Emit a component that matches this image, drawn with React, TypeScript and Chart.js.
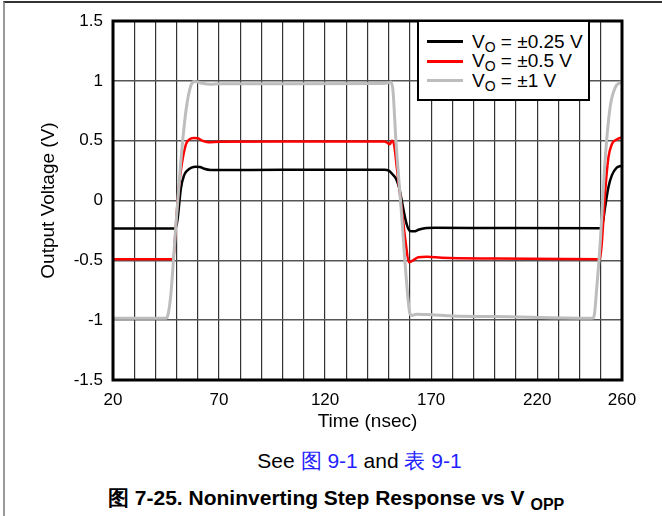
import React, { useEffect, useRef } from 'react';
import { Chart, registerables } from 'chart.js';

Chart.register(...registerables);

const FONT = '"Liberation Sans", Arial, Helvetica, sans-serif';

// Axis ticks / grid
const xGridValues = [20, 30, 40, 50, 60, 70, 80, 90, 100, 110, 120, 130, 140, 150, 160, 170, 180, 190, 200, 210, 220, 230, 240, 250, 260];
const xLabelValues = [20, 70, 120, 170, 220, 260];
const yTickValues = [-1.5, -1, -0.5, 0, 0.5, 1, 1.5];
const yTickLabels = ['-1.5', '-1', '-0.5', '0', '0.5', '1', '1.5'];

// Series: VO = ±0.25 V (black)
const blackT = [20, 49.5, 50.5, 52, 53.5, 55, 57, 59, 61, 63, 66, 70, 100, 148, 150, 152, 153.5, 155, 157, 158.5, 160, 162, 164, 167, 172, 200, 250, 251, 252, 253.6, 255.2, 257.5, 259.4, 260];
const blackV = [-0.235, -0.235, -0.15, 0.1, 0.21, 0.25, 0.275, 0.283, 0.28, 0.265, 0.255, 0.255, 0.256, 0.256, 0.25, 0.215, 0.18, 0.1, -0.08, -0.2, -0.255, -0.258, -0.245, -0.232, -0.228, -0.23, -0.232, -0.18, -0.06, 0.11, 0.21, 0.275, 0.288, 0.29];

// Series: VO = ±0.5 V (red)
const redT = [20, 48.5, 49.3, 50.5, 52, 54.4, 56, 58, 60, 62, 65, 70, 100, 148, 149.5, 150.5, 151.5, 152.5, 154, 156, 158, 159.5, 161, 164, 168, 175, 200, 249.6, 250.5, 252, 253.6, 255.2, 257.5, 259.4, 260];
const redV = [-0.49, -0.49, -0.3, 0, 0.25, 0.47, 0.51, 0.522, 0.52, 0.5, 0.487, 0.49, 0.492, 0.492, 0.48, 0.47, 0.5, 0.47, 0.25, -0.05, -0.35, -0.515, -0.505, -0.475, -0.47, -0.478, -0.485, -0.49, -0.35, 0.06, 0.36, 0.47, 0.51, 0.525, 0.527];

// Series: VO = ±1 V (gray)
const grayT = [20, 45, 46, 47.3, 48.5, 49.6, 52, 54.4, 56.7, 58.5, 60, 62, 66, 70, 100, 148, 150, 151, 152, 153.4, 156, 158.5, 160, 161, 163, 170, 180, 200, 246, 247, 248, 249.6, 252, 254.4, 256.7, 259.4, 260];
const grayV = [-0.985, -0.985, -0.95, -0.78, -0.5, -0.22, 0.33, 0.75, 0.96, 0.995, 0.99, 0.98, 0.972, 0.975, 0.975, 0.978, 0.985, 0.99, 0.92, 0.5, -0.1, -0.7, -0.945, -0.96, -0.95, -0.955, -0.965, -0.97, -0.985, -0.95, -0.75, -0.39, 0.33, 0.78, 0.94, 0.99, 0.995];

const legendLabels = ['±0.25 V', '±0.5 V', '±1 V'];
const seriesColors = ['#000000', '#ff0000', '#bdbdbd'];

const toPts = (t: number[], v: number[]) => t.map((x, i) => ({ x, y: v[i] }));

const framePlugin = {
  id: 'frameBorder',
  afterDatasetsDraw(chart: any) {
    const { ctx, chartArea } = chart;
    const { left, top, right, bottom } = chartArea;
    ctx.save();
    ctx.strokeStyle = '#000';
    ctx.lineWidth = 3;
    ctx.strokeRect(left, top, right - left, bottom - top);
    ctx.restore();
  },
};

export default function App() {
  const canvasRef = useRef<HTMLCanvasElement | null>(null);

  useEffect(() => {
    const canvas = canvasRef.current;
    if (!canvas) return;
    const chart = new Chart(canvas, {
      type: 'line',
      data: {
        datasets: [
          {
            label: legendLabels[0],
            data: toPts(blackT, blackV),
            borderColor: seriesColors[0],
            borderWidth: 2.5,
            pointRadius: 0,
            cubicInterpolationMode: 'monotone',
            order: 2,
          },
          {
            label: legendLabels[1],
            data: toPts(redT, redV),
            borderColor: seriesColors[1],
            borderWidth: 2.5,
            pointRadius: 0,
            cubicInterpolationMode: 'monotone',
            order: 1,
          },
          {
            label: legendLabels[2],
            data: toPts(grayT, grayV),
            borderColor: seriesColors[2],
            borderWidth: 3,
            pointRadius: 0,
            cubicInterpolationMode: 'monotone',
            order: 0,
          },
        ],
      },
      options: {
        animation: false,
        responsive: false,
        maintainAspectRatio: false,
        layout: { padding: { left: 0, right: 40, top: 21, bottom: 0 } },
        plugins: { legend: { display: false }, tooltip: { enabled: false } },
        scales: {
          x: {
            type: 'linear',
            min: 20,
            max: 260,
            afterBuildTicks: (scale: any) => {
              scale.ticks = xGridValues.map((v) => ({ value: v }));
            },
            afterFit: (scale: any) => {
              scale.height = 60;
            },
            ticks: {
              autoSkip: false,
              maxRotation: 0,
              padding: 10,
              color: '#000',
              font: { family: FONT, size: 17 },
              callback: (v: any) => (xLabelValues.includes(Number(v)) ? String(v) : ''),
            },
            grid: { color: '#333', lineWidth: 1.2, drawTicks: false },
            border: { display: false },
            title: {
              display: true,
              text: 'Time (nsec)',
              color: '#000',
              font: { family: FONT, size: 19 },
              padding: { top: 0, bottom: 7 },
            },
          },
          y: {
            type: 'linear',
            min: -1.5,
            max: 1.5,
            afterBuildTicks: (scale: any) => {
              scale.ticks = yTickValues.map((v) => ({ value: v }));
            },
            afterFit: (scale: any) => {
              scale.width = 113;
            },
            ticks: {
              padding: 10,
              color: '#000',
              font: { family: FONT, size: 17 },
              callback: (v: any) => {
                const i = yTickValues.indexOf(Number(v));
                return i >= 0 ? yTickLabels[i] : '';
              },
            },
            grid: { color: '#555', lineWidth: 1.5, drawTicks: false },
            border: { display: false },
            title: {
              display: true,
              text: 'Output Voltage (V)',
              color: '#000',
              font: { family: FONT, size: 19 },
              padding: { top: 37, bottom: 0 },
            },
          },
        },
      },
      plugins: [framePlugin],
    });
    return () => chart.destroy();
  }, []);

  const legendRowStyle: React.CSSProperties = {
    position: 'absolute',
    left: 8,
    height: 20,
    display: 'flex',
    alignItems: 'center',
    fontFamily: FONT,
    fontSize: 19,
    color: '#000',
    whiteSpace: 'nowrap',
  };

  return (
    <div style={{ position: 'fixed', left: 0, top: 0, width: 662, height: 516, background: '#fff', overflow: 'hidden' }}>
      <div
        style={{
          position: 'absolute',
          left: 3,
          top: 1,
          width: 700,
          height: 700,
          borderTop: '2px solid #333',
          borderLeft: '2px solid #999',
        }}
      />
      <canvas ref={canvasRef} width={662} height={440} style={{ position: 'absolute', left: 0, top: 0, width: 662, height: 440 }} />
      <div
        style={{
          position: 'absolute',
          left: 417,
          top: 20,
          width: 173,
          height: 81,
          boxSizing: 'border-box',
          border: '2.5px solid #000',
          background: '#fff',
        }}
      >
        {legendLabels.map((lab, i) => (
          <div key={lab} style={{ ...legendRowStyle, top: 9.5 + i * 19.5 }}>
            <span style={{ display: 'inline-block', width: 36, height: 3, background: seriesColors[i], marginRight: 9 }} />
            <span>
              V<sub style={{ fontSize: 14, verticalAlign: -4, lineHeight: 0 }}>O</sub> = {lab}
            </span>
          </div>
        ))}
      </div>
      <div
        style={{
          position: 'absolute',
          left: 0,
          width: 719,
          top: 447,
          textAlign: 'center',
          fontFamily: FONT,
          fontSize: 21,
          color: '#000',
        }}
      >
        See <span style={{ color: '#2222ff' }}>图 9-1</span> and <span style={{ color: '#2222ff' }}>表 9-1</span>
      </div>
      <div
        style={{
          position: 'absolute',
          left: 108,
          top: 484,
          fontFamily: FONT,
          fontSize: 21,
          fontWeight: 'bold',
          color: '#000',
          whiteSpace: 'nowrap',
        }}
      >
        图 7-25. Noninverting Step Response vs V <sub style={{ fontSize: 16, verticalAlign: -5, lineHeight: 0 }}>OPP</sub>
      </div>
    </div>
  );
}
